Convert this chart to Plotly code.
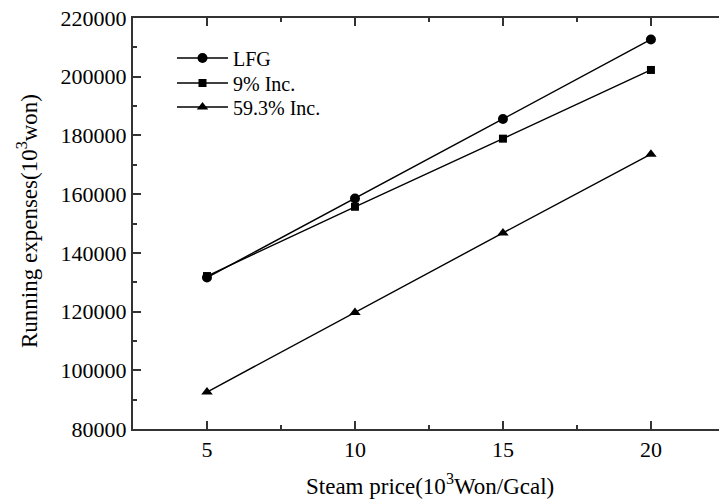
import plotly.graph_objects as go

steam_price = [5, 10, 15, 20]
lfg = [131600, 158500, 185600, 212700]
inc9 = [132100, 155700, 178900, 202300]
inc593 = [92600, 119700, 146800, 173600]
series_names = ["LFG", "9% Inc.", "59.3% Inc."]
y_ticks = [80000, 100000, 120000, 140000, 160000, 180000, 200000, 220000]
x_ticks = [5, 10, 15, 20]

FONT = "Liberation Serif"

W, H = 719, 502
ML, MR, MT, MB = 133, 0, 18, 73
PW, PH = W - ML - MR, H - MT - MB

fig = go.Figure()
symbols = ["circle", "square", "triangle-up"]
sizes = [10, 8, 10]
legend_ids = ["legend", "legend2", "legend3"]
legend_py = [58, 83, 107]
for name, vals, sym, sz, lid in zip(series_names, [lfg, inc9, inc593], symbols, sizes, legend_ids):
    fig.add_trace(go.Scatter(
        x=steam_price, y=vals, name=name, mode="lines+markers",
        line=dict(color="black", width=1.4),
        marker=dict(symbol=sym, size=sz, color="black"),
        legend=lid, showlegend=True,
    ))

axis_common = dict(
    showgrid=False, zeroline=False, showline=True, linecolor="#333333", linewidth=2,
    ticks="inside", ticklen=8, tickwidth=1.5, tickcolor="#333333",
    tickfont=dict(family=FONT, size=22, color="black"),
)

fig.update_xaxes(
    **axis_common, range=[2.5, 22.3], tickvals=x_ticks, mirror="ticks",
    minor=dict(ticks="inside", ticklen=4, tickwidth=1.5, tickcolor="#333333", dtick=2.5, tick0=2.5),
)
fig.update_yaxes(
    **axis_common, range=[80000, 220000], tickvals=y_ticks, tickformat="d",
    minor=dict(ticks="inside", ticklen=4, tickwidth=1.5, tickcolor="#333333", dtick=10000, tick0=80000),
)

legend_layout = {}
for lid, py in zip(legend_ids, legend_py):
    legend_layout[lid] = dict(
        x=(172 - ML) / PW, y=(H - MB - py) / PH, xanchor="left", yanchor="middle",
        font=dict(family=FONT, size=20, color="black"),
        bgcolor="rgba(0,0,0,0)", itemwidth=51, borderwidth=0, visible=True,
    )

fig.update_layout(
    width=W, height=H,
    margin=dict(l=ML, r=MR, t=MT, b=MB),
    plot_bgcolor="white", paper_bgcolor="white",
    showlegend=True,
    **legend_layout,
    annotations=[
        dict(text="Steam price(10<sup>3</sup>Won/Gcal)", xref="paper", yref="paper",
             x=(430 - ML) / PW, y=(H - MB - 484) / PH, xanchor="center", yanchor="middle",
             showarrow=False, font=dict(family=FONT, size=23, color="black")),
        dict(text="Running expenses(10<sup>3</sup>won)", xref="paper", yref="paper",
             x=(28 - ML) / PW, y=(H - MB - 221) / PH, xanchor="center", yanchor="middle",
             textangle=-90, showarrow=False, font=dict(family=FONT, size=23, color="black")),
    ],
)

fig.write_html("out.html")
